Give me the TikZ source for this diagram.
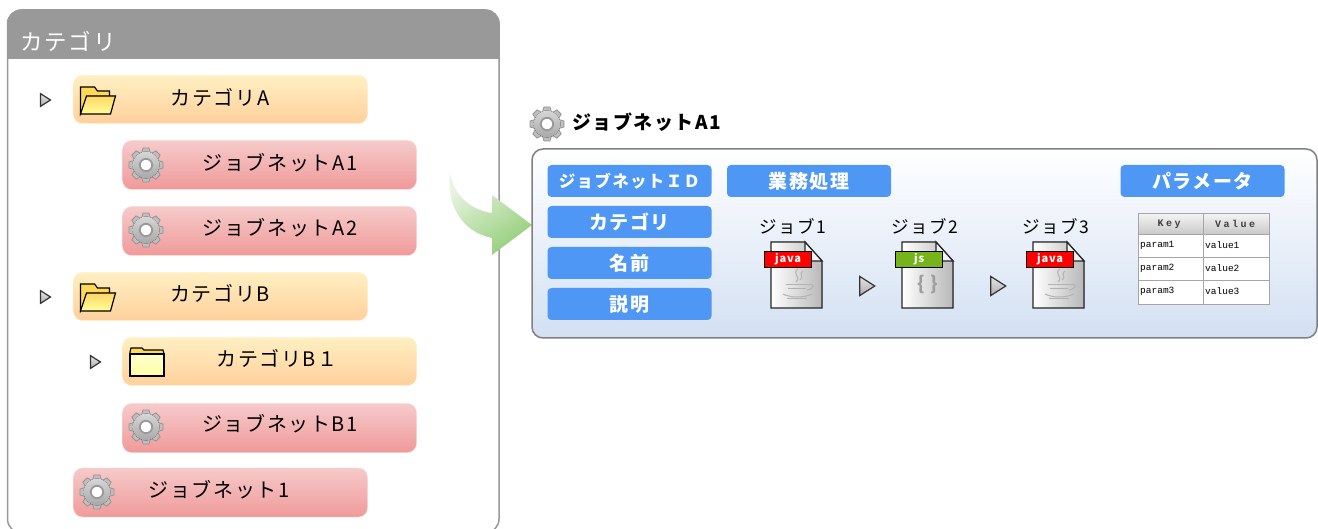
\documentclass[tikz,border=0pt]{standalone}
\usepackage{fontspec}
\usepackage{tikz}
\usetikzlibrary{shapes.geometric}
\setmainfont{Noto Sans CJK JP}[LetterSpace=8]
\newfontfamily\tablefont{Liberation Mono}
\newfontfamily\keyfont[LetterSpace=25]{Liberation Mono}
\definecolor{headgray}{HTML}{999999}
\definecolor{btnblue}{HTML}{4F97F5}
\definecolor{jsgreen}{HTML}{77B41C}
\definecolor{cattop}{HTML}{FFEFC2}
\definecolor{catbot}{HTML}{FFD09C}
\definecolor{nettop}{HTML}{F6CACA}
\definecolor{netbot}{HTML}{F09A9A}
\definecolor{paneltop}{HTML}{FFFFFF}
\definecolor{panelbot}{HTML}{D3E0F3}
\definecolor{arrowtop}{HTML}{EAF4E4}
\definecolor{arrowbot}{HTML}{95CE7A}
\tikzset{
  catbox/.style = {draw = cattop, rounded corners = 9, top color = cattop, bottom color = catbot, minimum width = 294, minimum height = 48},
  netbox/.style = {draw = nettop!60, rounded corners = 9, top color = nettop, bottom color = netbot, minimum width = 294, minimum height = 49},
  btnbox/.style = {fill = btnblue, rounded corners = 4, text = white, font = \bfseries\fontsize{19}{19}\selectfont, minimum width = 164, minimum height = 32, inner sep = 0},
  treetext/.style = {font = \fontsize{20}{20}\selectfont, inner sep = 0},
  jobtext/.style = {font = \fontsize{17.5}{18}\selectfont, inner sep = 0},
  marker/.style = {draw = black!80, line width = 1.2, isosceles triangle, isosceles triangle apex angle = 65, inner sep = 0, top color = gray!20, bottom color = gray!65},
  smallmark/.style = {marker, minimum height = 10, minimum width = 12},
  bigmark/.style = {marker, minimum height = 15, minimum width = 18},
  cell/.style = {font = \tablefont\fontsize{9.5}{10}\selectfont, inner sep = 0, anchor = west},
  head/.style = {font = \keyfont\bfseries\fontsize{10}{10}\selectfont, text = black!75, inner sep = 0}
}
% gear icon
\newcommand{\gearicon}[3]{
  \begin{scope}[shift = {(#1,#2)}, scale = #3]
    \foreach \a in {0,45,...,315}
      \filldraw[rotate = \a, draw = black!42, fill = black!25, line width = .8] (-4.4,-12) -- (-3,-17) -- (3,-17) -- (4.4,-12) -- cycle;
    \fill[top color = black!16, bottom color = black!34] (0,0) circle (13.4);
    \filldraw[draw = black!40, fill = white, line width = 1.8] (0,0) circle (6.2);
  \end{scope}
}
% open folder icon
\newcommand{\openfolder}[2]{
  \begin{scope}[shift = {(#1,#2)}]
    \filldraw[draw = black, line width = 1.2, fill = yellow!60!orange!65] (0,27) -- (0,0) -- (14,0) -- (17,4) -- (29,4) -- (29,10) -- (8,10) -- cycle;
    \filldraw[draw = black, line width = 1.2, top color = yellow!45!orange!60, bottom color = white!60!yellow] (6,9) -- (35,9) -- (30,27) -- (0,27) -- cycle;
  \end{scope}
}
% closed folder icon
\newcommand{\closedfolder}[2]{
  \begin{scope}[shift = {(#1,#2)}]
    \filldraw[draw = black, line width = 1.2, fill = yellow!60!orange!65] (0,4) -- (1,0) -- (12,0) -- (14,2) -- (33,2) -- (34,6) -- (0,6) -- cycle;
    \filldraw[draw = black, line width = 1.2, top color = white!80!yellow, bottom color = yellow!35] (0,6) rectangle (34,28);
  \end{scope}
}
% file icon with coloured tag
\newcommand{\fileicon}[4]{
  \begin{scope}[shift = {(#1,242)}]
    \filldraw[draw = black!85, line width = 1.3, left color = white, right color = black!28] (0,0) -- (34,0) -- (51,19) -- (51,66) -- (0,66) -- cycle;
    \filldraw[draw = black!85, line width = 1.2, fill = white!95!black] (34,0) -- (51,19) -- (34,19) -- cycle;
    \node[draw = black, line width = 1.2, fill = #2, text = white, anchor = north west, minimum width = 47, minimum height = 16, inner sep = 0, font = \bfseries\fontsize{11}{11}\selectfont] (#4) at (-7,9) {#3};
  \end{scope}
}
% steam and cup drawn on a java file
\newcommand{\cupmark}[1]{
  \begin{scope}[shift = {(#1,242)}, draw = black!30, line width = 1]
    \draw (27,27) .. controls (20,32) and (31,35) .. (25,40);
    \draw (32,29) .. controls (27,32) and (34,35) .. (29,38);
    \draw (15,43) -- (37,43);
    \draw (17,47) -- (35,47);
    \draw (12,52) .. controls (20,56) and (32,56) .. (41,52);
    \draw (37,43) .. controls (44,40) and (44,47) .. (36,48);
    \draw (16,57) -- (36,57);
  \end{scope}
}

\begin{document}
\begin{tikzpicture}
    [x = 1pt, y = -1pt]
    \useasboundingbox (0,0) rectangle (1318,529);
    % category panel
    \draw[draw = headgray, line width = 1.5, rounded corners = 14, fill = white] (7.5,10) rectangle (499,533);
    \begin{scope}
      \clip (0,0) rectangle (510,59);
      \fill[headgray, rounded corners = 14] (7,9.5) rectangle (499.7,100);
    \end{scope}
    \node[treetext, text = white, anchor = west, font = \fontsize{22.5}{23}\selectfont] (title) at (20,41) {カテゴリ};
    % tree rows
    \foreach \id/\x/\y in {ca/220.5/99.5,cb/220.5/296.5,cb1/269.5/361.5}
      \node[catbox] (\id) at (\x,\y) {};
    \foreach \id/\x/\y in {na1/269.5/165,na2/269.5/231,nb1/269.5/428,n1/220.5/492.5}
      \node[netbox] (\id) at (\x,\y) {};
    \foreach \id/\x/\y/\txt in {ta/220/97/カテゴリA,tb/220/293/カテゴリB,tb1/277/358/カテゴリB１,tn1/280/163/ジョブネットA1,tn2/280/228/ジョブネットA2,tnb/280/424/ジョブネットB1,tn/219/490/ジョブネット1}
      \node[treetext] (\id) at (\x,\y) {\txt};
    \foreach \id/\x/\y in {ma/44/100,mb/44/297,mc/94/362}
      \node[smallmark] (\id) at (\x,\y) {};
    \openfolder{80.5}{87}
    \openfolder{80.5}{284}
    \closedfolder{130}{348}
    \gearicon{146}{165}{1}
    \gearicon{146}{230}{1}
    \gearicon{146}{427}{1}
    \gearicon{97}{492}{1}
    % curved arrow
    \path[top color = arrowtop, bottom color = arrowbot, shading angle = 35]
      (450,173) .. controls (454,195) and (470,210) .. (492,213) -- (492,195) -- (532,225) -- (492,255) -- (492,238) .. controls (462,232) and (446,205) .. (450,173) -- cycle;
    % jobnet detail
    \gearicon{547}{124}{1}
    \node[treetext, anchor = west, font = \bfseries\fontsize{19}{19}\selectfont] (jobtitle) at (572,122) {ジョブネットA1};
    \draw[draw = black!50, line width = 1.5, rounded corners = 11, top color = paneltop, bottom color = panelbot] (532,149) rectangle (1317,338);
    \foreach \id/\x/\y/\txt in {bf/629.5/222/カテゴリ,bn/629.5/263/名前,bd/629.5/304/説明,bw/809/181/業務処理,bp/1202.5/181/パラメータ}
      \node[btnbox] (\id) at (\x,\y) {\raisebox{-1.5pt}{\txt}};
    \node[btnbox, font = \bfseries\fontsize{16.5}{17}\selectfont] (bi) at (629.5,181) {\raisebox{-1pt}{ジョブネットＩＤ}};
    \foreach \id/\x/\txt in {j1/793/ジョブ1,j2/925/ジョブ2,j3/1056/ジョブ3}
      \node[jobtext] (\id) at (\x,226) {\txt};
    \fileicon{771}{red}{java}{t1}
    \cupmark{771}
    \fileicon{902}{jsgreen}{js}{t2}
    \node[text = black!38, font = \bfseries\fontsize{19}{19}\selectfont, inner sep = 0] (brace) at (928,284) {\{ \}};
    \fileicon{1033}{red}{java}{t3}
    \cupmark{1033}
    \node[bigmark] (ar1) at (865,286) {};
    \node[bigmark] (ar2) at (996,286) {};
    % parameter table
    \filldraw[draw = black!35, line width = 1, fill = white] (1138,214) rectangle (1269,305);
    \shade[top color = white!95!black, bottom color = black!22] (1138.5,214.5) rectangle (1268.5,235);
    \draw[draw = black!35, line width = 1] (1138,214) rectangle (1269,305) (1203,214) -- (1203,305) (1138,235) -- (1269,235) (1138,257.5) -- (1269,257.5) (1138,281) -- (1269,281);
    \node[head] (hk) at (1169,224) {Key};
    \node[head] (hv) at (1235,224) {Value};
    \foreach \i/\y in {1/245,2/268,3/291} {
      \node[cell] (k\i) at (1140,\y) {param\i};
      \node[cell] (v\i) at (1205,\y) {value\i};
    }
  \end{tikzpicture}
\end{document}
